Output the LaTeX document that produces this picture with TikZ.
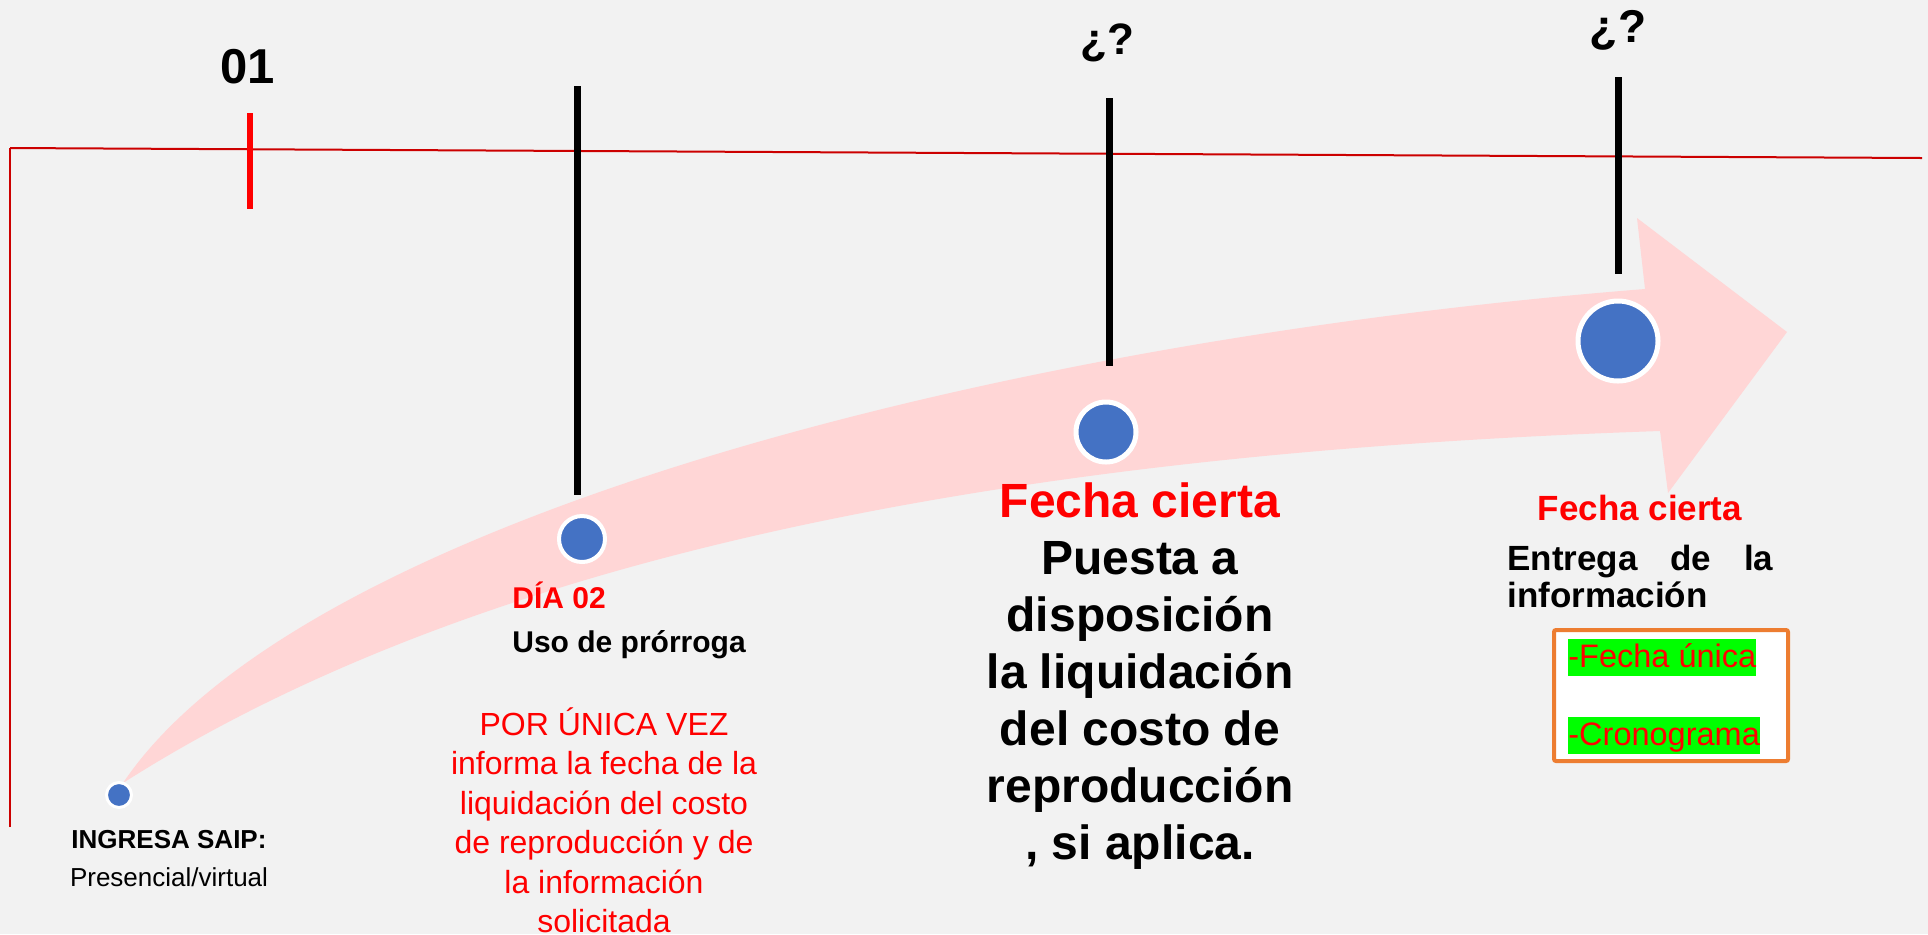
\documentclass[tikz,border=0pt]{standalone}
\usepackage{fontspec}
\setmainfont{Liberation Sans}
\usetikzlibrary{positioning}

\definecolor{fondo}{RGB}{242,242,242}
\definecolor{rosa}{RGB}{255,214,214}
\definecolor{azul}{RGB}{68,114,196}
\definecolor{rojolinea}{RGB}{204,0,0}
\definecolor{naranja}{RGB}{237,125,49}
\definecolor{verde}{RGB}{0,255,0}

\newcommand{\fs}[1]{\fontsize{#1}{1.2\dimexpr#1\relax}\selectfont}

\begin{document}
\begin{tikzpicture}[x=0.5pt,y=-0.5pt,
  punto/.style={circle,fill=azul,draw=white,inner sep=0pt,outer sep=0pt},
  hito/.style={line width=3.5pt,black},
  resalte/.style={fill=verde,text=red,inner sep=0pt,text height=14pt,text depth=4.5pt,font=\fs{16.25pt}}]

\fill[fondo] (0,0) rectangle (1928,934);
\useasboundingbox (0,0) rectangle (1928,934);

% linea de tiempo
\coordinate (lineaL) at (10,148);
\coordinate (lineaR) at (1922,158);
\coordinate (lineaB) at (10,827);
\draw[rojolinea,line width=0.6pt] (lineaB) -- (lineaL);
\draw[rojolinea,line width=1pt] (lineaL) -- (lineaR);
\coordinate (r1a) at (250,113);
\coordinate (r1b) at (250,209);
\draw[red,line width=3pt] (r1a) -- (r1b);

% flecha curva
\coordinate (cola) at (123,783);
\fill[rosa] (cola) .. controls (300,520) and (1000,340) .. (1645,289)
  -- (1637,218) -- (1787,332) -- (1668,493) -- (1660,431)
  .. controls (1100,450) and (520,530) .. (cola) -- cycle;

% hitos
\foreach \i/\x/\ya/\yb in {1/577/86/495,2/1109/98/366,3/1618/77/274} {
  \coordinate (hs\i) at (\x,\ya);
  \coordinate (hi\i) at (\x,\yb);
  \draw[hito] (hs\i) -- (hi\i);
}

% puntos
\foreach \i/\x/\y/\r/\w in {1/119/795/14/3,2/582/539/25/4,3/1106/432/32.5/5,4/1618/341/42.5/5}
  \node[punto,minimum size={(2*\r-\w)*0.5pt},line width={\w*0.5pt}] (p\i) at (\x,\y) {};

% textos superiores
\node[anchor=base,font=\fs{24.5pt}\bfseries] (dia01) at (248,83) {01};
\node[anchor=base,font=\fs{22pt}\bfseries] (preg1) at (1107,54) {¿?};
\node[anchor=base,font=\fs{23pt}\bfseries] (preg2) at (1618,42) {¿?};

% ingreso
\node[anchor=base,font=\fs{13pt}\bfseries] (ingresa) at (169,848) {INGRESA SAIP:};
\node[anchor=base,font=\fs{13pt}] (presencial) at (169,886) {Presencial/virtual};

% dia 02
\node[anchor=base west,inner sep=0pt,text=red,font=\fs{15pt}\bfseries] (dia02) at (512,608) {DÍA 02};
\node[anchor=base west,inner sep=0pt,font=\fs{15pt}\bfseries] (prorroga) at (512,652) {Uso de prórroga};

\def\unica{1/{POR ÚNICA VEZ},2/{informa la fecha de la},3/{liquidación del costo},4/{de reproducción y de},5/{la información},6/{solicitada}}
\foreach \i/\txt in \unica
  \node[anchor=base,inner sep=0pt,text=red,font=\fs{16pt}] (unica\i) at (604,{735+39.5*(\i-1)}) {\txt};

% fecha cierta (centro)
\node[anchor=base,inner sep=0pt,text=red,font=\fs{24pt}\bfseries] (fecha1) at (1140,517) {Fecha cierta};
\def\puesta{1/{Puesta a},2/{disposición},3/{la liquidación},4/{del costo de},5/{reproducción},6/{, si aplica.}}
\foreach \i/\txt in \puesta
  \node[anchor=base,inner sep=0pt,font=\fs{24pt}\bfseries] (puesta\i) at (1140,{517+57*\i}) {\txt};

% fecha cierta (derecha)
\node[anchor=base,inner sep=0pt,text=red,font=\fs{17.5pt}\bfseries] (fecha2) at (1640,520) {Fecha cierta};
\node[anchor=base west,inner sep=0pt,font=\fs{17.5pt}\bfseries] (entrega1) at (1507,570) {\makebox[133pt][s]{Entrega de la}};
\node[anchor=base west,inner sep=0pt,font=\fs{17.5pt}\bfseries] (entrega2) at (1507,607) {información};

\node[draw=naranja,fill=white,line width=2pt,rounded corners=1pt,inner sep=0pt,outer sep=0pt,
  minimum width=117pt,minimum height=65.5pt,anchor=north west] (caja) at (1554,630) {};
\node[resalte,anchor=base west] (unicaFecha) at (1568,667) {-Fecha única};
\node[resalte,anchor=base west] (crono) at (1568,745) {-Cronograma};

\end{tikzpicture}
\end{document}
